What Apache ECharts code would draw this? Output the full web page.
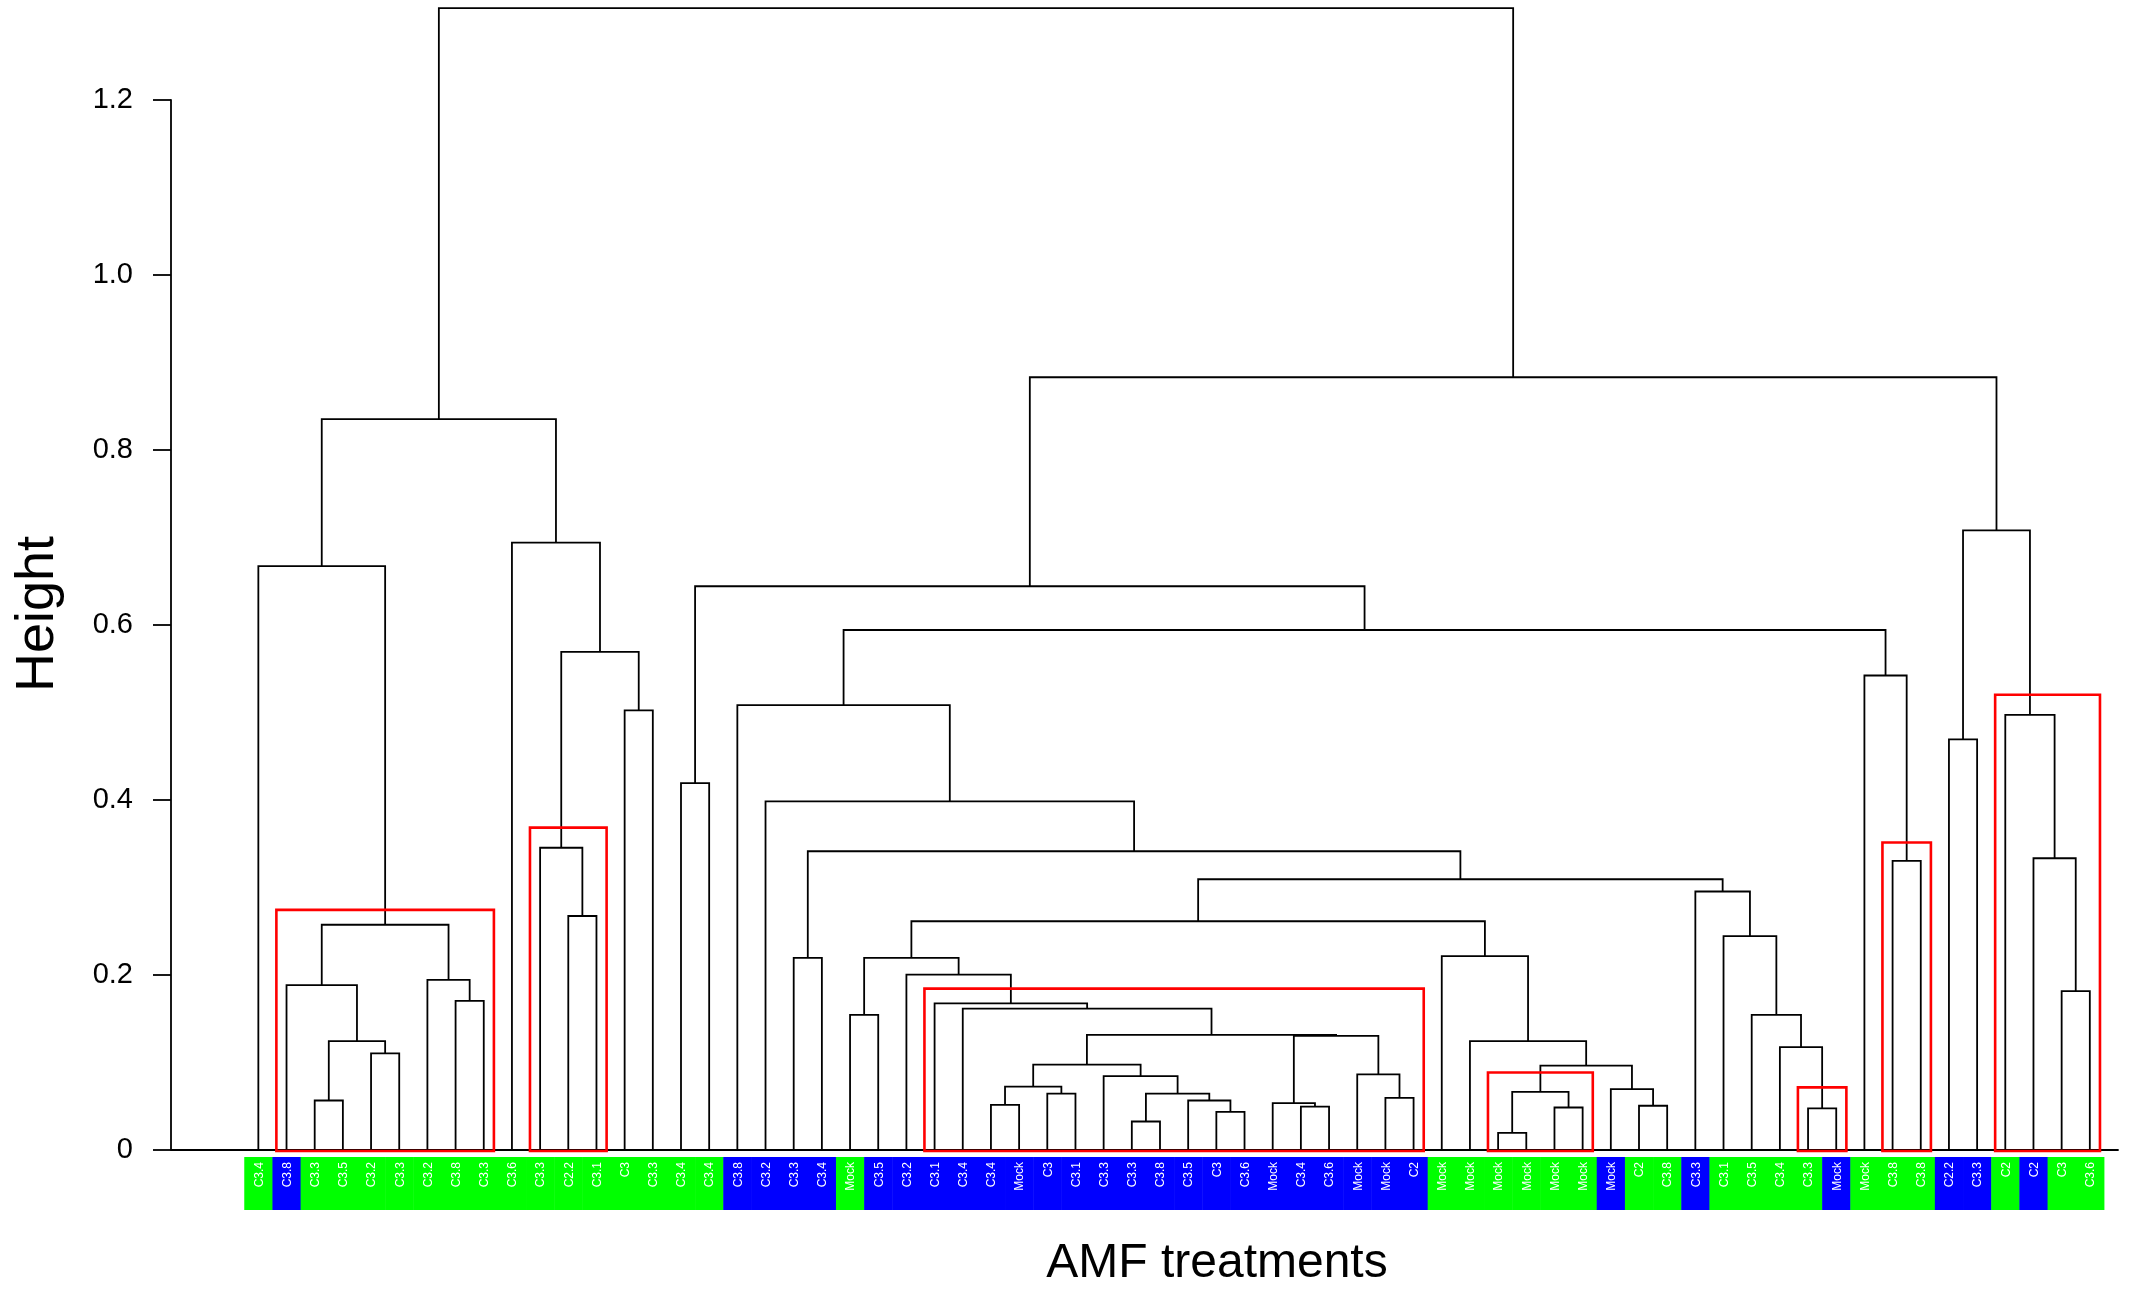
<!DOCTYPE html>
<html>
<head>
<meta charset="utf-8">
<title>AMF treatments dendrogram</title>
<script src="https://cdn.jsdelivr.net/npm/echarts@6/dist/echarts.min.js"></script>
<style>
  html, body { margin: 0; padding: 0; background: #fff; }
  #chart { width: 2139px; height: 1290px; }
</style>
</head>
<body>
<div id="chart"></div>
<script>
// leaves, left to right
var leafLabels = ['C3.4','C3.8','C3.3','C3.5','C3.2','C3.3','C3.2','C3.8','C3.3','C3.6',
  'C3.3','C2.2','C3.1','C3','C3.3','C3.4','C3.4','C3.8','C3.2','C3.3',
  'C3.4','Mock','C3.5','C3.2','C3.1','C3.4','C3.4','Mock','C3','C3.1',
  'C3.3','C3.3','C3.8','C3.5','C3','C3.6','Mock','C3.4','C3.6','Mock',
  'Mock','C2','Mock','Mock','Mock','Mock','Mock','Mock','Mock','C2',
  'C3.8','C3.3','C3.1','C3.5','C3.4','C3.3','Mock','Mock','C3.8','C3.8',
  'C2.2','C3.3','C2','C2','C3','C3.6'];
var leafGroup = ['A','B','A','A','A','A','A','A','A','A',
  'A','A','A','A','A','A','A','B','B','B',
  'B','A','B','B','B','B','B','B','B','B',
  'B','B','B','B','B','B','B','B','B','B',
  'B','B','A','A','A','A','A','A','B','A',
  'A','B','A','A','A','A','B','A','A','A',
  'B','B','A','B','A','A'];

// merges (hclust style): negative = leaf number, positive = earlier merge number
var mergeA = [-3,-5,1,-2,-8,-7,4,-1,-12,-11,-14,10,-10,8,
  -16,-20,-22,-27,-29,18,-32,-35,-34,21,-31,20,-38,-37,-41,-40,28,26,-26,-25,-24,17,
  -45,-47,37,-50,-49,39,-44,-43,36,-56,-55,-54,-53,-52,45,16,-19,-18,-59,-58,54,15,
  -61,-65,-64,-63,59,58,14];
var mergeB = [-4,-6,2,3,-9,5,6,7,-13,9,-15,11,12,13,
  -17,-21,-23,-28,-30,19,-33,-36,22,23,24,25,-39,27,-42,29,30,31,32,33,34,35,
  -46,-48,38,-51,40,41,42,43,44,-57,46,47,48,49,50,51,52,53,-60,55,56,57,
  -62,-66,60,61,62,63,64];
var mergeHeight = [0.056,0.110,0.124,0.188,0.170,0.194,0.257,0.667,0.267,0.345,0.502,0.569,0.694,0.835,
  0.419,0.219,0.154,0.051,0.064,0.072,0.032,0.043,0.056,0.064,0.084,0.097,0.049,0.053,0.059,0.086,0.130,0.131,0.161,0.167,0.200,0.219,
  0.019,0.048,0.066,0.050,0.069,0.096,0.124,0.221,0.261,0.047,0.117,0.154,0.244,0.295,0.309,0.341,0.398,0.508,0.330,0.542,0.594,0.644,
  0.469,0.181,0.333,0.497,0.708,0.883,1.305];

// highlighted clusters
var boxFirst = [2, 11, 25, 45, 56, 59, 63];
var boxLast = [9, 13, 42, 48, 57, 60, 66];
var boxTop = [0.274, 0.368, 0.184, 0.088, 0.071, 0.351, 0.520];

var groupColor = { A: '#00ff00', B: '#0000ff' };
var FONT = '"Liberation Sans", Arial, Helvetica, sans-serif';

// node positions: leaf k at x = k, merge at the midpoint of its children
var nodeX = [], nodeH = [];
function childPos(c) {
  if (c < 0) return [-c, 0];
  return [nodeX[c - 1], nodeH[c - 1]];
}
for (var i = 0; i < mergeA.length; i++) {
  var a = childPos(mergeA[i]), b = childPos(mergeB[i]);
  nodeX.push((a[0] + b[0]) / 2);
  nodeH.push(mergeHeight[i]);
}

var mergeData = mergeA.map(function (m, i) { return [i]; });
var leafData = leafLabels.map(function (l, i) { return [i + 1]; });
var boxData = boxFirst.map(function (f, i) { return [i]; });

var myChart = echarts.init(document.getElementById('chart'));
var option = {
  animation: false,
  backgroundColor: '#fff',
  grid: { left: 171, right: 21, top: 100, bottom: 140.5 },
  xAxis: {
    type: 'value',
    min: -2.1,
    max: 67,
    axisLine: { show: true, onZero: false, lineStyle: { color: '#000', width: 1.8 } },
    axisTick: { show: false },
    axisLabel: { show: false },
    splitLine: { show: false }
  },
  yAxis: {
    type: 'value',
    min: 0,
    max: 1.2,
    interval: 0.2,
    axisLine: { show: true, onZero: false, lineStyle: { color: '#000', width: 1.8 } },
    axisTick: { show: true, inside: false, length: 18, lineStyle: { color: '#000', width: 1.8 } },
    axisLabel: {
      margin: 38,
      color: '#000',
      fontSize: 29,
      fontFamily: FONT,
      formatter: function (v) { return v === 0 ? '0' : v.toFixed(1); }
    },
    splitLine: { show: false }
  },
  graphic: [
    {
      type: 'text', x: 38, y: 614, rotation: Math.PI / 2,
      style: { text: 'Height', fill: '#000', font: '54px ' + FONT, align: 'center', verticalAlign: 'middle' }
    },
    {
      type: 'text', x: 1217, y: 1264,
      style: { text: 'AMF treatments', fill: '#000', font: '48px ' + FONT, align: 'center', verticalAlign: 'middle' }
    }
  ],
  series: [
    {
      // dendrogram branches
      type: 'custom',
      clip: false,
      silent: true,
      data: mergeData,
      renderItem: function (params, api) {
        var k = api.value(0);
        var a = childPos(mergeA[k]), b = childPos(mergeB[k]), h = mergeHeight[k];
        return {
          type: 'polyline',
          shape: { points: [api.coord(a), api.coord([a[0], h]), api.coord([b[0], h]), api.coord(b)] },
          style: { stroke: '#000', lineWidth: 1.8, fill: null }
        };
      }
    },
    {
      // red cluster boxes
      type: 'custom',
      clip: false,
      silent: true,
      data: boxData,
      renderItem: function (params, api) {
        var k = api.value(0);
        var tl = api.coord([boxFirst[k] - 0.36, boxTop[k]]);
        var br = api.coord([boxLast[k] + 0.36, 0]);
        return {
          type: 'rect',
          shape: { x: tl[0], y: tl[1], width: br[0] - tl[0], height: br[1] - tl[1] + 1.5 },
          style: { stroke: '#ff0000', lineWidth: 2.6, fill: null }
        };
      }
    },
    {
      // coloured leaf label strip
      type: 'custom',
      clip: false,
      silent: true,
      data: leafData,
      renderItem: function (params, api) {
        var n = api.value(0);
        var l = api.coord([n - 0.5, 0]);
        var r = api.coord([n + 0.5, 0]);
        var c = api.coord([n, 0]);
        return {
          type: 'group',
          children: [
            {
              type: 'rect',
              shape: { x: l[0], y: c[1] + 7.5, width: r[0] - l[0] + 0.5, height: 53 },
              style: { fill: groupColor[leafGroup[n - 1]] }
            },
            {
              type: 'text',
              x: c[0] + 1, y: c[1] + 12.5,
              rotation: Math.PI / 2,
              style: { text: leafLabels[n - 1], fill: '#fff', font: '12px ' + FONT, align: 'right', verticalAlign: 'middle' }
            }
          ]
        };
      }
    }
  ]
};
myChart.setOption(option);
</script>
</body>
</html>
